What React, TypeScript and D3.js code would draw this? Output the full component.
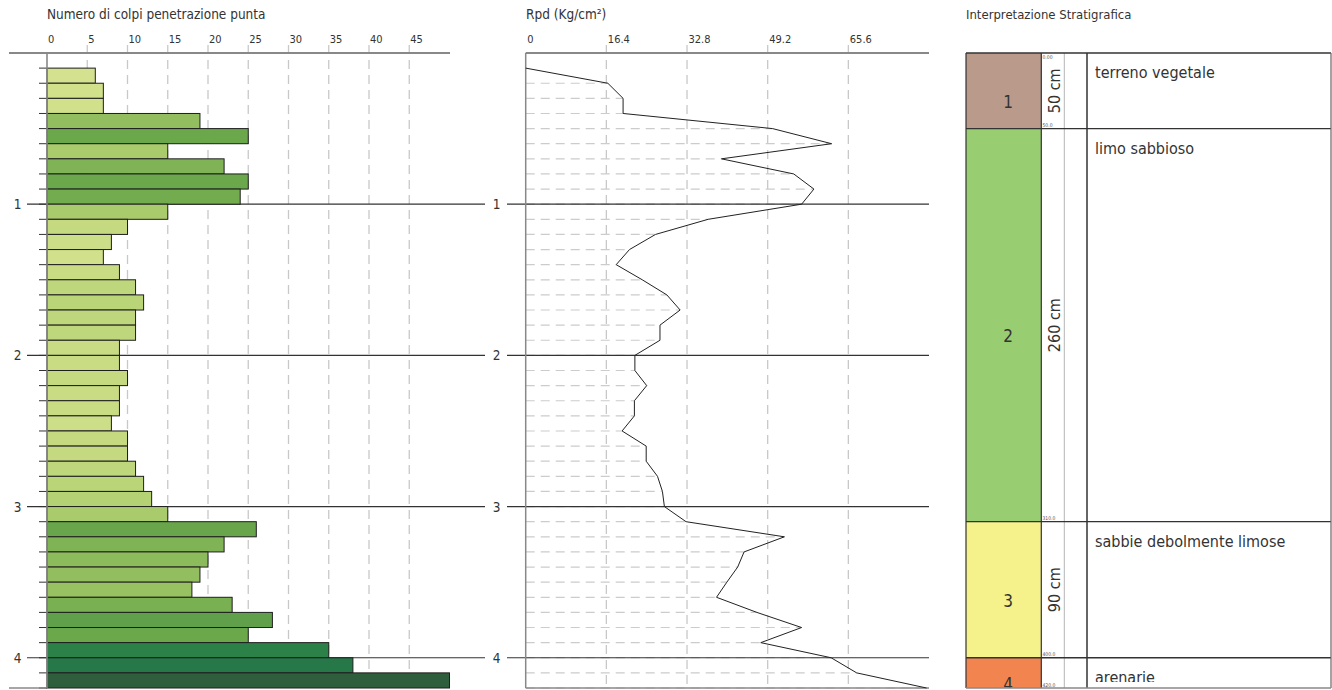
import React from "react";
import * as d3 from "d3";

// Penetrometer test: blow counts per 10 cm, dynamic resistance and stratigraphy
const depthStart = 0.1; // m, first reading
const depthStep = 0.1; // m per reading
const blowCounts = [
  6, 7, 7, 19, 25, 15, 22, 25, 24, 15,
  10, 8, 7, 9, 11, 12, 11, 11, 9, 9,
  10, 9, 9, 8, 10, 10, 11, 12, 13, 15,
  26, 22, 20, 19, 18, 23, 28, 25, 35, 38,
  50,
];
// Rpd (Kg/cm²) at depths 0.1 .. 4.2 m
const rpdValues = [
  0, 16.7, 19.8, 19.8, 50.2, 62.2, 39.8, 54.5, 58.6, 56.1,
  37.1, 26.4, 21.1, 18.4, 23.7, 28.7, 31.4, 27.3, 27.3, 22.2,
  22.2, 24.6, 22.1, 22.1, 19.6, 24.5, 24.5, 26.8, 27.8, 28.2,
  32.6, 52.6, 44.4, 43.1, 40.9, 38.8, 47.0, 56.1, 47.8, 62.1,
  67.3, 81.5,
];
const blowTicks = [0, 5, 10, 15, 20, 25, 30, 35, 40, 45];
const rpdTicks = [0, 16.4, 32.8, 49.2, 65.6];
const depthLabels = [1, 2, 3, 4];

const layerIds = ["1", "2", "3", "4"];
const layerTopCm = [0, 50, 310, 400];
const layerBottomCm = [50, 310, 400, 420];
const layerColors = ["#b99a8b", "#99cd71", "#f5f18b", "#f2854f"];
const layerNames = ["terreno vegetale", "limo sabbioso", "sabbie debolmente limose", "arenarie"];
const layerThicknessLabels = ["50 cm", "260 cm", "90 cm", ""];

const FONT = "'DejaVu Sans Condensed', 'DejaVu Sans', sans-serif";
const TXT = "#333";

const W = 1332;
const H = 690;

const yDepth = d3.scaleLinear().domain([0, 4.2]).range([53, 688]);
const xBlows = d3.scaleLinear().domain([0, 50]).range([47, 449.5]);
const xRpd = d3.scaleLinear().domain([0, 82]).range([525.7, 929]);

const blowColor = d3
  .scaleLinear<string>()
  .domain([6, 10, 15, 20, 25, 30, 35, 38, 50])
  .range(["#d4e28f", "#c5da80", "#a9cb6c", "#8cbb5c", "#6ba84c", "#5b9a48", "#2c8149", "#267848", "#2e5e3c"])
  .clamp(true);

const readingDepths = d3.range(rpdValues.length).map((i) => +(depthStart + i * depthStep).toFixed(2));

export default function App() {
  const rpdLine = d3
    .line<number>()
    .x((v) => xRpd(v))
    .y((_, i) => yDepth(readingDepths[i]));

  const sx0 = 966;
  const sx1 = 1041.3;
  const sx2 = 1064.3;
  const sx3 = 1087;
  const sx4 = 1331;
  const yTop = yDepth(0);
  const yBot = yDepth(4.2);

  return (
    <svg
      width={W}
      height={H}
      style={{ position: "absolute", left: 0, top: 0, background: "#fff" }}
      fontFamily={FONT}
    >
      <defs>
        <clipPath id="stratClip">
          <rect x={sx0} y={yTop} width={sx4 - sx0} height={yBot - yTop} />
        </clipPath>
        <clipPath id="descClip">
          <rect x={sx3} y={yTop} width={sx4 - sx3} height={682 - yTop} />
        </clipPath>
      </defs>

      {/* ---------- Blow count chart ---------- */}
      <text x={47} y={18.5} fontSize={13.5} fill={TXT}>
        Numero di colpi penetrazione punta
      </text>
      {blowTicks.map((t) => (
        <text key={`bt${t}`} x={xBlows(t) + 1} y={43} fontSize={11} fill={TXT}>
          {t}
        </text>
      ))}
      {blowTicks
        .filter((t) => t > 0)
        .map((t) => (
          <line
            key={`bg${t}`}
            x1={xBlows(t)}
            x2={xBlows(t)}
            y1={45}
            y2={yBot}
            stroke="#c8c8c8"
            strokeWidth={1.3}
            strokeDasharray="9 6"
          />
        ))}
      <line x1={9} x2={450} y1={yTop} y2={yTop} stroke="#888" strokeWidth={2} />
      {depthLabels.map((d) => (
        <g key={`ld${d}`}>
          <line x1={27} x2={485} y1={yDepth(d)} y2={yDepth(d)} stroke="#333" strokeWidth={1.2} />
          <text x={17.5} y={yDepth(d) + 5} fontSize={13.5} fill={TXT} textAnchor="middle">
            {d}
          </text>
        </g>
      ))}
      {readingDepths.slice(0, blowCounts.length + 1).map((d) => (
        <line key={`tk${d}`} x1={39} x2={47} y1={yDepth(d)} y2={yDepth(d)} stroke="#333" strokeWidth={1} />
      ))}
      <line x1={9} x2={47} y1={yBot} y2={yBot} stroke="#888" strokeWidth={1.5} />
      {blowCounts.map((v, i) => {
        const y0 = yDepth(readingDepths[i]);
        const y1 = yDepth(readingDepths[i + 1]);
        return (
          <rect
            key={`b${i}`}
            x={xBlows(0)}
            y={y0}
            width={xBlows(v) - xBlows(0)}
            height={y1 - y0}
            fill={blowColor(v)}
            stroke="#1e1e1e"
            strokeWidth={1}
          />
        );
      })}
      <line x1={xBlows(0)} x2={xBlows(0)} y1={yTop} y2={yBot} stroke="#888" strokeWidth={1.6} />

      {/* ---------- Rpd chart ---------- */}
      <text x={526} y={18.5} fontSize={13.5} fill={TXT}>
        Rpd (Kg/cm²)
      </text>
      {rpdTicks.map((t) => (
        <text key={`rt${t}`} x={xRpd(t) + 1.5} y={43} fontSize={11} fill={TXT}>
          {t}
        </text>
      ))}
      {rpdTicks
        .filter((t) => t > 0)
        .map((t) => (
          <line
            key={`rg${t}`}
            x1={xRpd(t)}
            x2={xRpd(t)}
            y1={45}
            y2={yBot}
            stroke="#c8c8c8"
            strokeWidth={1.3}
            strokeDasharray="9 6"
          />
        ))}
      {rpdValues.map((v, i) =>
        v > 0 ? (
          <line
            key={`rh${i}`}
            x1={xRpd(0)}
            x2={xRpd(v)}
            y1={yDepth(readingDepths[i])}
            y2={yDepth(readingDepths[i])}
            stroke="#cccccc"
            strokeWidth={1.2}
            strokeDasharray="9 6"
          />
        ) : null
      )}
      {depthLabels.map((d) => (
        <g key={`rd${d}`}>
          <line x1={507} x2={929} y1={yDepth(d)} y2={yDepth(d)} stroke="#333" strokeWidth={1.2} />
          <text x={496.5} y={yDepth(d) + 5} fontSize={13.5} fill={TXT} textAnchor="middle">
            {d}
          </text>
        </g>
      ))}
      <line x1={xRpd(0)} x2={929} y1={yTop} y2={yTop} stroke="#888" strokeWidth={2} />
      <line x1={xRpd(0)} x2={929} y1={yBot} y2={yBot} stroke="#888" strokeWidth={1.5} />
      <line x1={xRpd(0)} x2={xRpd(0)} y1={yTop} y2={yBot} stroke="#888" strokeWidth={1.5} />
      <path d={rpdLine(rpdValues) ?? ""} fill="none" stroke="#222" strokeWidth={1} />

      {/* ---------- Stratigraphy ---------- */}
      <text x={966} y={19} fontSize={13} fill={TXT}>
        Interpretazione Stratigrafica
      </text>
      <g clipPath="url(#stratClip)">
        {layerIds.map((id, i) => {
          const t = yDepth(layerTopCm[i] / 100);
          const b = yDepth(layerBottomCm[i] / 100);
          const mid = (t + b) / 2;
          return (
            <g key={`l${id}`}>
              <rect x={sx0} y={t} width={sx1 - sx0} height={b - t} fill={layerColors[i]} />
              <text x={1008} y={mid + 17} fontSize={17} fill={TXT} textAnchor="middle">
                {id}
              </text>
              {layerThicknessLabels[i] ? (
                <text
                  transform={`translate(${1059.5},${mid}) rotate(-90)`}
                  fontSize={16}
                  fill={TXT}
                  textAnchor="middle"
                >
                  {layerThicknessLabels[i]}
                </text>
              ) : null}
              {i === 0 ? (
                <text x={1042.5} y={t + 5.5} fontSize={5} fill="#555">
                  {(layerTopCm[i] / 100).toFixed(2)}
                </text>
              ) : null}
              <text x={1042.5} y={b - 1.5} fontSize={5} fill="#555">
                {layerBottomCm[i].toFixed(1)}
              </text>
            </g>
          );
        })}
      </g>
      <g clipPath="url(#descClip)">
        {layerNames.map((n, i) => (
          <text key={`n${i}`} x={1095} y={yDepth(layerTopCm[i] / 100) + 25} fontSize={16} fill={TXT}>
            {n}
          </text>
        ))}
      </g>
      <line x1={sx2} x2={sx2} y1={yTop} y2={yBot} stroke="#b5b5b5" strokeWidth={1} />
      <line x1={sx1} x2={sx1} y1={yTop} y2={yBot} stroke="#333" strokeWidth={1.2} />
      <line x1={sx3} x2={sx3} y1={yTop} y2={yBot} stroke="#333" strokeWidth={1.5} />
      {layerBottomCm.slice(0, -1).map((c) => (
        <line key={`lb${c}`} x1={sx0} x2={sx4} y1={yDepth(c / 100)} y2={yDepth(c / 100)} stroke="#333" strokeWidth={1.3} />
      ))}
      <line x1={sx0} x2={sx4} y1={yTop} y2={yTop} stroke="#333" strokeWidth={1.3} />
      <line x1={sx0} x2={sx0} y1={yTop} y2={yBot} stroke="#333" strokeWidth={1.2} />
      <line x1={sx4} x2={sx4} y1={yTop} y2={yBot} stroke="#666" strokeWidth={1.2} />
      <line x1={sx0} x2={sx4} y1={yBot} y2={yBot} stroke="#888" strokeWidth={1.5} />
    </svg>
  );
}
